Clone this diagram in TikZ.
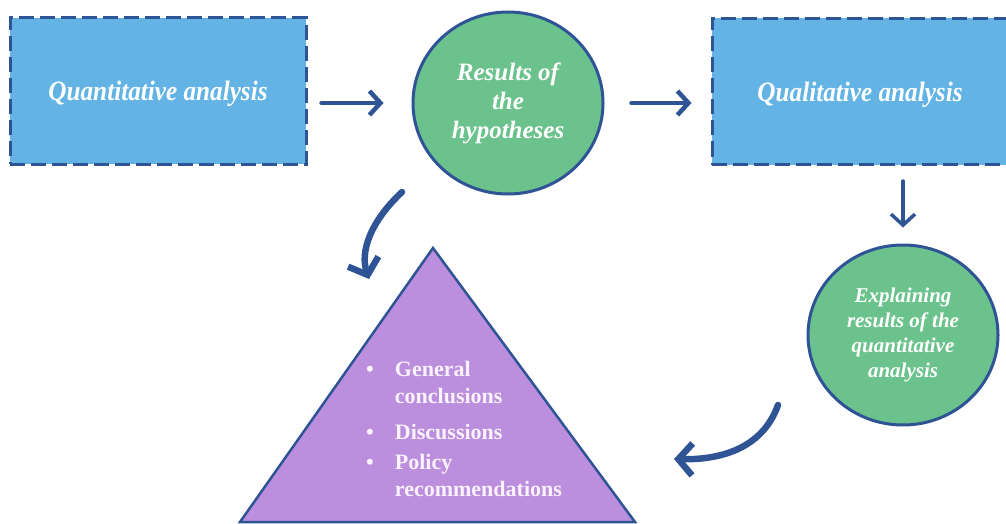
\documentclass[tikz,border=0pt]{standalone}
\usepackage{fontspec}
\setmainfont{Liberation Serif}
\newfontfamily\boxfont[FakeStretch=0.9]{Liberation Serif}
\usetikzlibrary{shapes.geometric,arrows.meta}

\definecolor{BoxBlue}{HTML}{63B4E4}
\definecolor{LineBlue}{HTML}{2F5496}
\definecolor{OvalGreen}{HTML}{6CC28C}
\definecolor{PyramidPurple}{HTML}{BB8EDE}
\definecolor{PaleText}{HTML}{FAF2FC}

\begin{document}
\begin{tikzpicture}[x=1pt, y=-1pt]
    \useasboundingbox (0,0) rectangle (1006,524);

    \tikzset{BoxStyle/.style={draw=LineBlue, fill=BoxBlue, line width=3pt, dash pattern=on 15pt off 6pt,
        minimum width=296pt, minimum height=146pt, inner sep=0pt, text=white, text depth=0pt,
        font=\boxfont\fontsize{28}{30}\selectfont\bfseries\itshape}}
    \node[BoxStyle] (QUANT) at (158,91) {Quantitative analysis};
    \node[BoxStyle] (QUAL) at (860,91.5) {Qualitative analysis};

    \tikzset{OvalStyle/.style={ellipse, draw=LineBlue, fill=OvalGreen, line width=3pt,
        inner sep=0pt, align=center, text=white}}
    \node[OvalStyle, minimum width=190pt, minimum height=182pt,
        font=\fontsize{25}{29}\selectfont\bfseries\itshape] (HYP) at (508,103) {Results of\\the\\hypotheses};
    \node[OvalStyle, minimum width=190pt, minimum height=180pt,
        font=\fontsize{21}{25}\selectfont\bfseries\itshape] (EXPL) at (903,335) {Explaining\\results of the\\quantitative\\analysis};

    \coordinate (TOP) at (433,248);
    \coordinate (LEFT) at (240,522);
    \coordinate (RIGHT) at (635,522);
    \draw[LineBlue, fill=PyramidPurple, line width=2.5pt] (TOP) -- (LEFT) -- (RIGHT) -- cycle;
    \node[anchor=north west, inner sep=0pt, text=PaleText, font=\fontsize{22}{27}\selectfont\bfseries] (CONCL) at (366,357)
        {\begin{tabular}{@{}c@{\hspace{21pt}}l@{}}
            \textbullet & General\\
                        & conclusions\\[9pt]
            \textbullet & Discussions\\[3pt]
            \textbullet & Policy\\
                        & recommendations
        \end{tabular}};

    \tikzset{FlowArrow/.style={LineBlue, line width=4.5pt, line cap=round,
        -{Straight Barb[length=11pt, width=24pt]}}}
    \tikzset{BendArrow/.style={LineBlue, line width=6.5pt, line cap=round,
        -{Straight Barb[length=14pt, width=32pt]}}}
    \draw[FlowArrow, shorten <=14pt, shorten >=28pt] (QUANT.east |- HYP.west) -- (HYP.west);
    \draw[FlowArrow, shorten <=27pt, shorten >=19pt] (HYP.east) -- (QUAL.west |- HYP.east);
    \draw[FlowArrow, line width=3.5pt, shorten <=15pt, shorten >=16pt] (QUAL.south -| EXPL.north) -- (EXPL.north);

    \coordinate (HYPOUT) at (402,192);
    \coordinate (PYRIN) at (369,279);
    \draw[BendArrow] (HYPOUT) .. controls (370,222) and (360,252) .. (PYRIN);
    \coordinate (EXPLOUT) at (778,405);
    \coordinate (PYRSIDE) at (674,459);
    \draw[BendArrow] (EXPLOUT) .. controls (762,450) and (718,460) .. (PYRSIDE);
\end{tikzpicture}
\end{document}
